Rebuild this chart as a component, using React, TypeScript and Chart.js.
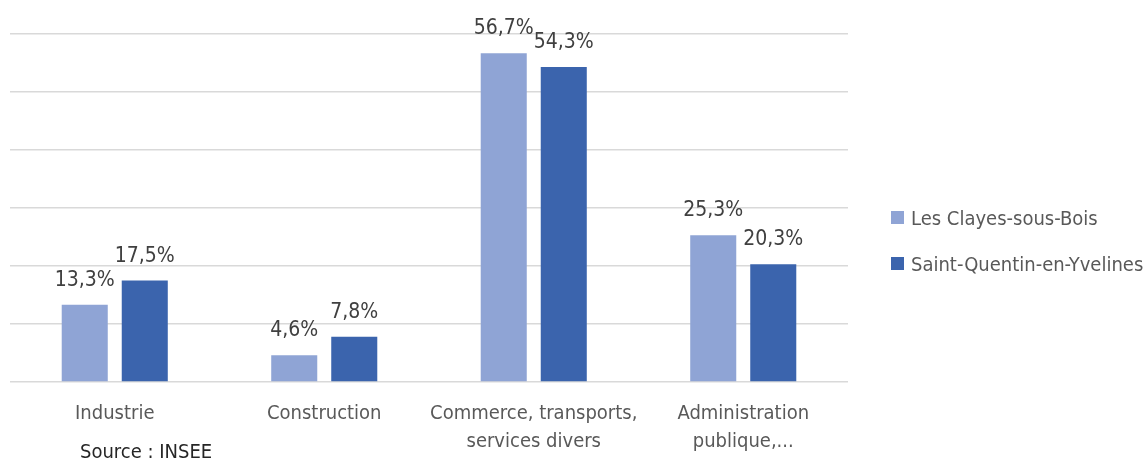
import React, { useEffect, useRef } from "react";
import { Chart, registerables } from "chart.js";

Chart.register(...registerables);

const categories: (string | string[])[] = [
  "Industrie",
  "Construction",
  ["Commerce, transports,", "services divers"],
  ["Administration", "publique,..."],
];
const seriesNames = ["Les Clayes-sous-Bois", "Saint-Quentin-en-Yvelines"];
const lesClayes = [13.3, 4.6, 56.7, 25.3];
const sqy = [17.5, 7.8, 54.3, 20.3];
const colors = ["#8FA4D5", "#3B64AD"];
const yTicks = [0, 10, 20, 30, 40, 50, 60];

const FONT = "'Liberation Sans Narrow', 'DejaVu Sans Condensed', 'Roboto', sans-serif";

const labelPlugin = {
  id: "valueLabels",
  afterDatasetsDraw(chart: any) {
    const ctx = chart.ctx;
    ctx.save();
    ctx.font = `21px ${FONT}`;
    ctx.fillStyle = "#404040";
    ctx.textAlign = "center";
    ctx.textBaseline = "alphabetic";
    chart.data.datasets.forEach((ds: any, i: number) => {
      const meta = chart.getDatasetMeta(i);
      meta.data.forEach((bar: any, j: number) => {
        const v = ds.data[j] as number;
        ctx.fillText(v.toFixed(1).replace(".", ",") + "%", bar.x, bar.y - 19);
      });
    });
    ctx.restore();
  },
};

export default function App() {
  const ref = useRef<HTMLCanvasElement>(null);
  useEffect(() => {
    document.body.style.margin = "0";
    const chart = new Chart(ref.current!, {
      type: "bar",
      data: {
        labels: categories,
        datasets: [
          {
            label: seriesNames[0],
            data: lesClayes,
            backgroundColor: colors[0],
            borderWidth: 0,
          },
          {
            label: seriesNames[1],
            data: sqy,
            backgroundColor: colors[1],
            borderWidth: 0,
          },
        ],
      },
      options: {
        animation: false,
        responsive: false,
        maintainAspectRatio: false,
        layout: { padding: { left: 10, right: 298, top: 34, bottom: 0 } },
        datasets: { bar: { categoryPercentage: 0.573, barPercentage: 0.767 } },
        plugins: { legend: { display: false }, tooltip: { enabled: false } },
        scales: {
          x: {
            grid: { display: false },
            border: { display: false },
            ticks: {
              color: "#595959",
              font: { family: FONT, size: 20, lineHeight: 1.4 },
              padding: 10,
              maxRotation: 0,
              autoSkip: false,
            },
            afterFit: (s: any) => {
              s.height = 79;
            },
          },
          y: {
            min: 0,
            max: 60,
            afterBuildTicks: (s: any) => {
              s.ticks = yTicks.map((v) => ({ value: v }));
            },
            ticks: { display: false },
            border: { display: false },
            grid: { color: "#D9D9D9", lineWidth: 1.5, drawTicks: false },
            afterFit: (s: any) => {
              s.width = 0;
            },
          },
        },
      },
      plugins: [labelPlugin],
    });
    return () => chart.destroy();
  }, []);

  return (
    <div style={{ position: "relative", width: 1146, height: 461, background: "#fff", fontFamily: FONT }}>
      <canvas ref={ref} width={1146} height={461} style={{ display: "block" }} />
      <div style={{ position: "absolute", left: 891, top: 200, color: "#595959", fontSize: 20 }}>
        {seriesNames.map((n, i) => (
          <div key={n} style={{ display: "flex", alignItems: "center", height: 35, marginBottom: i === 0 ? 11 : 0 }}>
            <span style={{ width: 13, height: 13, background: colors[i], display: "inline-block", marginRight: 7 }} />
            <span style={{ whiteSpace: "nowrap" }}>{n}</span>
          </div>
        ))}
      </div>
      <div style={{ position: "absolute", left: 80, top: 438, color: "#262626", fontSize: 20, lineHeight: "26px", whiteSpace: "nowrap" }}>
        Source : INSEE
      </div>
    </div>
  );
}
